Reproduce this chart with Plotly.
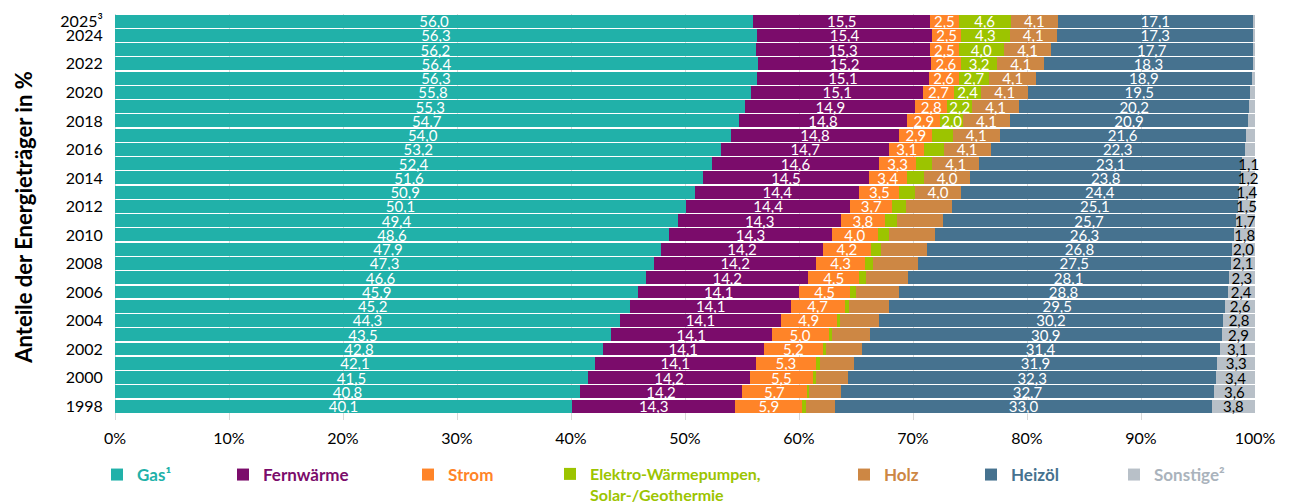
import plotly.graph_objects as go

years = [str(y) for y in range(1998, 2025)] + ["2025³"]
tick_years = [str(y) for y in range(1998, 2025, 2)] + ["2025³"]
x_ticks = list(range(0, 101, 10))
x_tick_labels = [f"{t}%" for t in x_ticks]

gas = [40.1, 40.8, 41.5, 42.1, 42.8, 43.5, 44.3, 45.2, 45.9, 46.6, 47.3, 47.9, 48.6, 49.4,
       50.1, 50.9, 51.6, 52.4, 53.2, 54.0, 54.7, 55.3, 55.8, 56.3, 56.4, 56.2, 56.3, 56.0]
fernwaerme = [14.3, 14.2, 14.2, 14.1, 14.1, 14.1, 14.1, 14.1, 14.1, 14.2, 14.2, 14.2, 14.3, 14.3,
              14.4, 14.4, 14.5, 14.6, 14.7, 14.8, 14.8, 14.9, 15.1, 15.1, 15.2, 15.3, 15.4, 15.5]
strom = [5.9, 5.7, 5.5, 5.3, 5.2, 5.0, 4.9, 4.7, 4.5, 4.5, 4.3, 4.2, 4.0, 3.8,
         3.7, 3.5, 3.4, 3.3, 3.1, 2.9, 2.9, 2.8, 2.7, 2.6, 2.6, 2.5, 2.5, 2.5]
waermepumpen = [0.3, 0.2, 0.3, 0.3, 0.3, 0.3, 0.3, 0.4, 0.5, 0.6, 0.7, 0.9, 1.0, 1.1,
                1.2, 1.4, 1.5, 1.4, 1.7, 1.8, 2.0, 2.2, 2.4, 2.7, 3.2, 4.0, 4.3, 4.6]
holz = [2.6, 2.8, 2.8, 3.0, 3.1, 3.3, 3.4, 3.5, 3.8, 3.7, 3.9, 4.0, 4.0, 4.0,
        4.0, 4.0, 4.0, 4.1, 4.1, 4.1, 4.1, 4.1, 4.1, 4.1, 4.1, 4.1, 4.1, 4.1]
heizoel = [33.0, 32.7, 32.3, 31.9, 31.4, 30.9, 30.2, 29.5, 28.8, 28.1, 27.5, 26.8, 26.3, 25.7,
           25.1, 24.4, 23.8, 23.1, 22.3, 21.6, 20.9, 20.2, 19.5, 18.9, 18.3, 17.7, 17.3, 17.1]
sonstige = [3.8, 3.6, 3.4, 3.3, 3.1, 2.9, 2.8, 2.6, 2.4, 2.3, 2.1, 2.0, 1.8, 1.7,
            1.5, 1.4, 1.2, 1.1, 0.9, 0.8, 0.6, 0.5, 0.4, 0.3, 0.2, 0.2, 0.1, 0.2]

names = ["Gas¹", "Fernwärme", "Strom", "Elektro-Wärmepumpen,<br>Solar-/Geothermie",
         "Holz", "Heizöl", "Sonstige²"]
colors = ["#21B1A9", "#7B0C6B", "#FF8428", "#9CC400", "#CD8744", "#46728F", "#B8C0C8"]
legend_text_colors = ["#21B1A9", "#7B0C6B", "#FF8428", "#9CC400", "#CD8744", "#46728F", "#AAB3BC"]
series = [gas, fernwaerme, strom, waermepumpen, holz, heizoel, sonstige]


def fmt(v):
    return f"{v:.1f}".replace(".", ",")


def labels(vals, idx):
    out = []
    for i, v in enumerate(vals):
        yr = 1998 + i
        show = True
        if idx == 3:
            show = v >= 2.0
        elif idx == 4:
            show = yr >= 2013
        elif idx == 6:
            show = v >= 1.0
        out.append(fmt(v) if show else "")
    return out


FONT = "Lato, 'Open Sans', sans-serif"
W, H = 1290, 503
legend_origin_px = [97, 223, 408, 550, 844, 971, 1114]
legend_font_sizes = [17, 17, 17, 16, 17, 17, 17]
legend_top_px = 457
PL, PR, PT, PB = 115, 1255, 14, 420

fig = go.Figure()
for i, (nm, vals) in enumerate(zip(names, series)):
    lg = "legend" if i == 0 else f"legend{i + 1}"
    fig.add_trace(go.Bar(
        y=years, x=vals, orientation="h", name=nm, showlegend=True,
        marker=dict(color=colors[i], line=dict(width=0)),
        text=labels(vals, i), textposition="inside", insidetextanchor="middle",
        constraintext="none", textangle=0, cliponaxis=False,
        textfont=dict(family=FONT, size=15, color="#000000" if i == 6 else "#FFFFFF"),
        legend=lg, hoverinfo="skip",
    ))

layout_legends = {}
for i in range(7):
    key = "legend" if i == 0 else f"legend{i + 1}"
    layout_legends[key] = dict(
        xref="container", yref="container",
        x=legend_origin_px[i] / W, xanchor="left",
        y=1 - legend_top_px / H, yanchor="top", valign="top",
        orientation="h", bgcolor="rgba(0,0,0,0)",
        font=dict(family=FONT, size=legend_font_sizes[i], color=legend_text_colors[i], weight="bold"),
    )

fig.update_layout(
    width=W, height=H, showlegend=True,
    margin=dict(l=PL, r=W - PR, t=PT, b=H - PB, autoexpand=False),
    barmode="stack", bargap=0.09,
    plot_bgcolor="white", paper_bgcolor="white",
    font=dict(family=FONT, color="#000000"),
    xaxis=dict(
        range=[0, 100], tickvals=x_ticks, ticktext=x_tick_labels, automargin=False,
        showgrid=True, gridcolor="#D9D9D9", gridwidth=1,
        zeroline=True, zerolinecolor="#D9D9D9", zerolinewidth=1,
        ticks="outside", ticklen=4, tickcolor="rgba(0,0,0,0)",
        tickfont=dict(family=FONT, size=16, color="#000000"),
    ),
    yaxis=dict(
        type="category", categoryorder="array", categoryarray=years, automargin=False,
        range=[-0.98, 27.5], tickvals=tick_years, ticktext=tick_years,
        showgrid=False, ticks="outside", ticklen=8, tickcolor="rgba(0,0,0,0)",
        tickfont=dict(family=FONT, size=16, color="#000000"),
        title=dict(text="Anteile der Energieträger in %", standoff=21,
                   font=dict(family=FONT, size=22, color="#000000", weight="bold")),
    ),
    **layout_legends,
)

fig.write_html("out.html", config={"displayModeBar": False},
               post_script="document.body.style.margin='0';")
